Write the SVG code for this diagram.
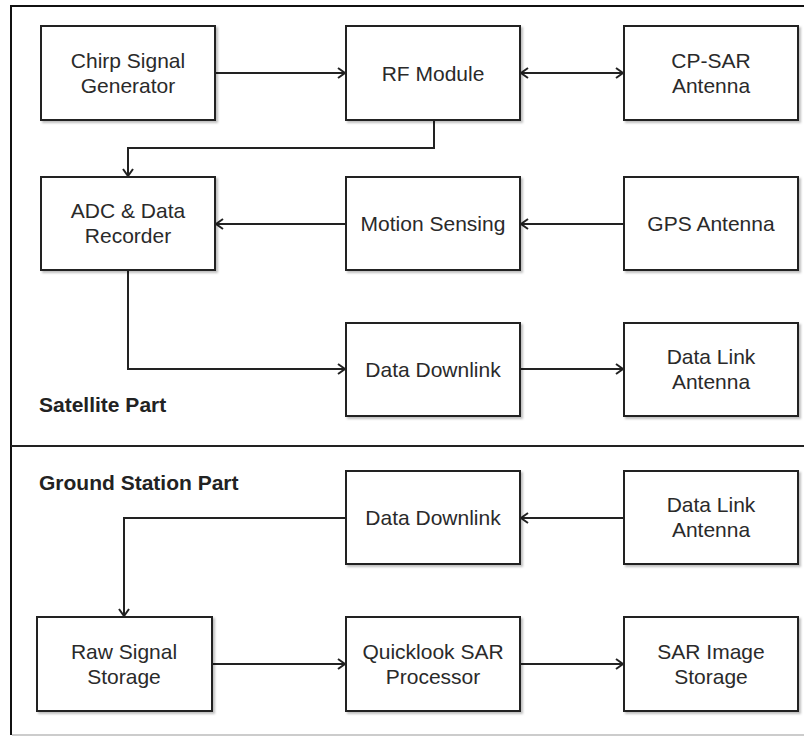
<svg xmlns="http://www.w3.org/2000/svg" width="804" height="736" viewBox="0 0 804 736">
  <defs>
    <filter id="shadow" x="-10%" y="-10%" width="130%" height="130%">
      <feDropShadow dx="2" dy="2" stdDeviation="1.2" flood-color="#000" flood-opacity="0.25"/>
    </filter>
    <marker id="arrow" markerUnits="userSpaceOnUse" markerWidth="14" markerHeight="14" viewBox="-10 -7 12 14" refX="0" refY="0" orient="auto-start-reverse">
      <path d="M-7,-5 L0,0 L-7,5" fill="none" stroke="#222" stroke-width="2" stroke-linejoin="miter"/>
    </marker>
  </defs>
  <style>
    .box { fill: #fff; stroke: #222; stroke-width: 2; filter: url(#shadow); }
    .lbl { font-family: "Liberation Sans", Arial, Helvetica, sans-serif; font-size: 21px; fill: #2a2a2a; text-anchor: middle; }
    .sec { font-family: "Liberation Sans", Arial, Helvetica, sans-serif; font-size: 21px; font-weight: bold; fill: #222; }
    .wire { fill: none; stroke: #222; stroke-width: 2; marker-end: url(#arrow); }
  </style>
  <rect width="804" height="736" fill="#fff"/>

  <!-- outer frame and section divider -->
  <g id="frame">
    <path d="M811,6 H11 V735" fill="none" stroke="#111" stroke-width="2"/>
    <line x1="12" y1="735" x2="804" y2="735" stroke="#bbb" stroke-width="1.5"/>
    <line x1="11" y1="446" x2="804" y2="446" stroke="#222" stroke-width="2"/>
    <text class="sec" x="39" y="412">Satellite Part</text>
    <text class="sec" x="39" y="490">Ground Station Part</text>
  </g>

  <!-- connectors -->
  <g id="connectors">
    <path class="wire" d="M215,73 H345"/>
    <path class="wire" d="M521,73 H623" marker-start="url(#arrow)"/>
    <path class="wire" d="M434,120 V148 H128 V176"/>
    <path class="wire" d="M624,224 H521"/>
    <path class="wire" d="M346,224 H216"/>
    <path class="wire" d="M128,270 V369 H345"/>
    <path class="wire" d="M520,369 H623"/>
    <path class="wire" d="M624,518 H521"/>
    <path class="wire" d="M346,518 H124 V616"/>
    <path class="wire" d="M212,664 H345"/>
    <path class="wire" d="M520,664 H623"/>
  </g>

  <!-- satellite part -->
  <g id="chirp">
    <rect class="box" x="41" y="26" width="174" height="94"/>
    <text class="lbl" x="128" y="68">Chirp Signal</text>
    <text class="lbl" x="128" y="93">Generator</text>
  </g>
  <g id="rf-module">
    <rect class="box" x="346" y="26" width="174" height="94"/>
    <text class="lbl" x="433" y="81">RF Module</text>
  </g>
  <g id="cpsar-antenna">
    <rect class="box" x="624" y="26" width="174" height="94"/>
    <text class="lbl" x="711" y="68">CP-SAR</text>
    <text class="lbl" x="711" y="93">Antenna</text>
  </g>
  <g id="adc-recorder">
    <rect class="box" x="41" y="177" width="174" height="93"/>
    <text class="lbl" x="128" y="218">ADC &amp; Data</text>
    <text class="lbl" x="128" y="243">Recorder</text>
  </g>
  <g id="motion-sensing">
    <rect class="box" x="346" y="177" width="174" height="93"/>
    <text class="lbl" x="433" y="231">Motion Sensing</text>
  </g>
  <g id="gps-antenna">
    <rect class="box" x="624" y="177" width="174" height="93"/>
    <text class="lbl" x="711" y="231">GPS Antenna</text>
  </g>
  <g id="sat-downlink">
    <rect class="box" x="346" y="323" width="174" height="93"/>
    <text class="lbl" x="433" y="377">Data Downlink</text>
  </g>
  <g id="sat-link-antenna">
    <rect class="box" x="624" y="323" width="174" height="93"/>
    <text class="lbl" x="711" y="364">Data Link</text>
    <text class="lbl" x="711" y="389">Antenna</text>
  </g>

  <!-- ground station part -->
  <g id="gs-downlink">
    <rect class="box" x="346" y="471" width="174" height="93"/>
    <text class="lbl" x="433" y="525">Data Downlink</text>
  </g>
  <g id="gs-link-antenna">
    <rect class="box" x="624" y="471" width="174" height="93"/>
    <text class="lbl" x="711" y="512">Data Link</text>
    <text class="lbl" x="711" y="537">Antenna</text>
  </g>
  <g id="raw-storage">
    <rect class="box" x="37" y="617" width="175" height="94"/>
    <text class="lbl" x="124" y="659">Raw Signal</text>
    <text class="lbl" x="124" y="684">Storage</text>
  </g>
  <g id="quicklook">
    <rect class="box" x="346" y="617" width="174" height="94"/>
    <text class="lbl" x="433" y="659">Quicklook SAR</text>
    <text class="lbl" x="433" y="684">Processor</text>
  </g>
  <g id="image-storage">
    <rect class="box" x="624" y="617" width="174" height="94"/>
    <text class="lbl" x="711" y="659">SAR Image</text>
    <text class="lbl" x="711" y="684">Storage</text>
  </g>
</svg>
